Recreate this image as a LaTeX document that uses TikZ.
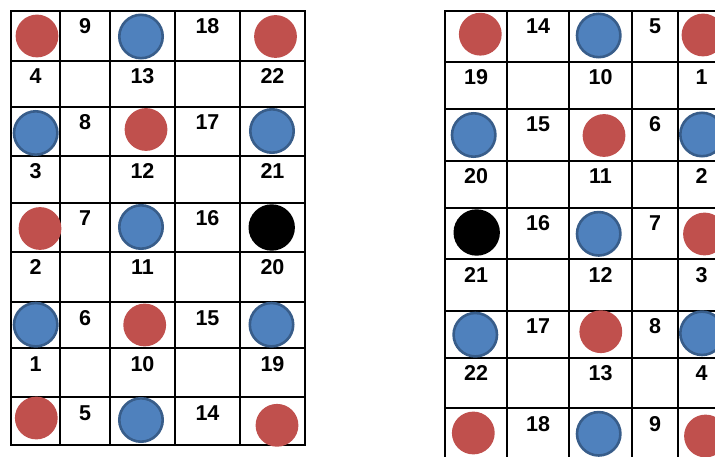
\documentclass[tikz,border=0pt]{standalone}
\usepackage{fontspec}
\setmainfont{Liberation Sans}
\usetikzlibrary{positioning}

\definecolor{tokred}{HTML}{C0504D}
\definecolor{tokblue}{HTML}{4F81BD}
\definecolor{tokedge}{HTML}{385D8A}

\begin{document}
\begin{tikzpicture}[
    x=1pt, y=-1pt,
    gridline/.style={line width=1.8pt, line cap=rect},
    num/.style={font=\fontsize{21.5}{22}\selectfont\bfseries,
                anchor=base, inner sep=0pt},
    redtok/.style={fill=tokred},
    bluetok/.style={fill=tokblue, draw=tokedge, line width=2.6pt},
    blacktok/.style={fill=black}
  ]
  \useasboundingbox (0,0) rectangle (715,457);
  \clip (0,0) rectangle (715,457);

  % left board
  \foreach \x in {11,60,110,175,240,305}
    \draw[gridline] (\x,11) -- (\x,445);
  \foreach \y in {11,61,107,156,203,252,302,348,397,445}
    \draw[gridline] (11,\y) -- (305,\y);

  \foreach \a/\b/\t in {9/18/11, 8/17/107, 7/16/203, 6/15/302, 5/14/397} {
    \node[num] (L\a) at (85,\t+23)    {\a};
    \node[num] (L\b) at (207.5,\t+23) {\b};
  }
  \foreach \a/\b/\c/\t in {4/13/22/61, 3/12/21/156, 2/11/20/252, 1/10/19/348} {
    \node[num] (L\a) at (35.5,\t+23)  {\a};
    \node[num] (L\b) at (142.5,\t+23) {\b};
    \node[num] (L\c) at (272.5,\t+23) {\c};
  }

  \foreach \x/\y in {37/36, 275.5/36.5, 146/129.5, 40/228.5,
                     144.7/325, 36.3/418, 277/425.3}
    \fill[redtok] (\x,\y) circle (21.4pt);
  \foreach \x/\y in {141/36.5, 35.7/133, 272/131, 141/227,
                     35.7/324.7, 271.5/324.7, 141/420}
    \draw[bluetok] (\x,\y) circle (21.7pt);
  \fill[blacktok] (271.7,227.5) circle (23.2pt);

  % right board
  \foreach \x in {445,507,569,632,678}
    \draw[gridline] (\x,11) -- (\x,470);
  \foreach \y in {11,61.7,109,160.7,207.7,259.3,310.7,357.7,408.3}
    \draw[gridline] (445,\y) -- (730,\y);

  \foreach \a/\b/\t in {14/5/11, 15/6/109, 16/7/207.7, 17/8/310.7, 18/9/408.3} {
    \node[num] (R\a) at (538,\t+23) {\a};
    \node[num] (R\b) at (655,\t+23) {\b};
  }
  \foreach \a/\b/\c/\t in {19/10/1/61.7, 20/11/2/160.7, 21/12/3/259.3, 22/13/4/357.7} {
    \node[num] (R\a) at (476,\t+23)   {\a};
    \node[num] (R\b) at (600.5,\t+23) {\b};
    \node[num] (R\c) at (701.5,\t+23) {\c};
  }

  \foreach \x/\y in {480.3/34.2, 703/35, 604/135.5, 704.5/234,
                     600.8/331.7, 473.3/433, 705.5/436}
    \fill[redtok] (\x,\y) circle (21.4pt);
  \foreach \x/\y in {598.7/35.5, 473.7/135, 702/134.5, 598.7/233.8,
                     475.3/334.7, 702/333.3, 598.7/433.8}
    \draw[bluetok] (\x,\y) circle (21.7pt);
  \fill[blacktok] (476.7,232.5) circle (23.2pt);
\end{tikzpicture}
\end{document}
